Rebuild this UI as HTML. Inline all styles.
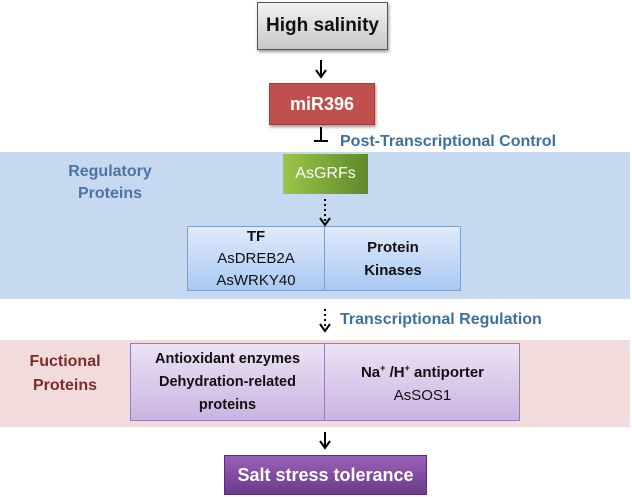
<!DOCTYPE html>
<html><head><meta charset="utf-8"><style>
body{margin:0;width:632px;height:497px;background:#fff;position:relative;overflow:hidden;font-family:"Liberation Sans",sans-serif}
div{position:absolute;box-sizing:border-box}
.c{display:flex;flex-direction:column;align-items:center;justify-content:center;text-align:center}
.b{font-weight:bold}
</style></head><body>
<div style="left:0;top:152px;width:630px;height:147px;background:#c6d9f0"></div>
<div style="left:0;top:340px;width:630px;height:87px;background:#f2dcdb"></div>

<div class="c b" style="left:257px;top:2px;width:131px;height:48px;background:linear-gradient(#f2f2f2,#c8c8c8);border:1px solid #555;font-size:19px;color:#111;box-shadow:1px 2px 3px #999">High salinity</div>
<div class="c b" style="left:269px;top:83px;width:106px;height:42px;background:#c0504d;border:1px solid #a03c3a;color:#fff;font-size:18px;box-shadow:1px 2px 3px #999">miR396</div>
<div class="c" style="left:283px;top:154px;width:85px;height:40px;background:linear-gradient(90deg,#9bc54a,#5f8a2a);color:#fff;font-size:16px">AsGRFs</div>

<div class="c b" style="left:60px;top:160px;width:100px;height:46px;color:#4a74a8;font-size:16px;line-height:22px">Regulatory<br>Proteins</div>
<div class="b" style="left:340px;top:133px;font-size:16px;color:#3d6fa0;white-space:nowrap">Post-Transcriptional Control</div>
<div class="b" style="left:340px;top:311px;font-size:16px;color:#3d6fa0;white-space:nowrap">Transcriptional Regulation</div>

<div style="left:187px;top:226px;width:274px;height:65px;border:1px solid #7aa0d0;background:linear-gradient(#e0ebfb,#a9c8f3)"></div>
<div style="left:324px;top:226px;width:1px;height:65px;background:#7aa0d0"></div>
<div class="c" style="left:187px;top:226px;width:138px;height:65px;font-size:15px;line-height:22px;color:#111"><span class="b">TF</span>AsDREB2A<br>AsWRKY40</div>
<div class="c b" style="left:325px;top:226px;width:136px;height:65px;font-size:15px;line-height:23px;color:#111">Protein<br>Kinases</div>

<div class="c b" style="left:20px;top:350px;width:90px;height:48px;color:#7f2b2b;font-size:16px;line-height:24px">Fuctional<br>Proteins</div>
<div style="left:130px;top:343px;width:390px;height:78px;border:1px solid #9a7cb8;background:linear-gradient(#ece3f5,#c9b4e0)"></div>
<div style="left:324px;top:343px;width:1px;height:78px;background:#9a7cb8"></div>
<div class="c b" style="left:130px;top:343px;width:195px;height:78px;font-size:14.5px;line-height:23px;color:#111">Antioxidant enzymes<br>Dehydration-related<br>proteins</div>
<div class="c" style="left:325px;top:343px;width:195px;height:78px;font-size:15px;line-height:23px;color:#111"><span class="b">Na<sup style="font-size:9px">+</sup> /H<sup style="font-size:9px">+</sup> antiporter</span>AsSOS1</div>

<div class="c b" style="left:224px;top:455px;width:203px;height:40px;background:linear-gradient(#9a62b8,#6b3a8a);border:1px solid #5a2d78;color:#fff;font-size:18px">Salt stress tolerance</div>

<svg width="632" height="497" style="position:absolute;left:0;top:0">
<g stroke="#000" stroke-width="2" fill="none">
<line x1="321" y1="60" x2="321" y2="76"/><polyline points="316,70 321,77 326,70"/>
<line x1="321" y1="127" x2="321" y2="141"/><line x1="314" y1="141" x2="328" y2="141"/>
<line x1="325" y1="199" x2="325" y2="224" stroke-dasharray="2,3"/><polyline points="320,218 325,225 330,218"/>
<line x1="325" y1="309" x2="325" y2="331" stroke-dasharray="2,3"/><polyline points="320,324 325,331 330,324"/>
<line x1="325" y1="432" x2="325" y2="447"/><polyline points="320,441 325,448 330,441"/>
</g></svg>
</body></html>
